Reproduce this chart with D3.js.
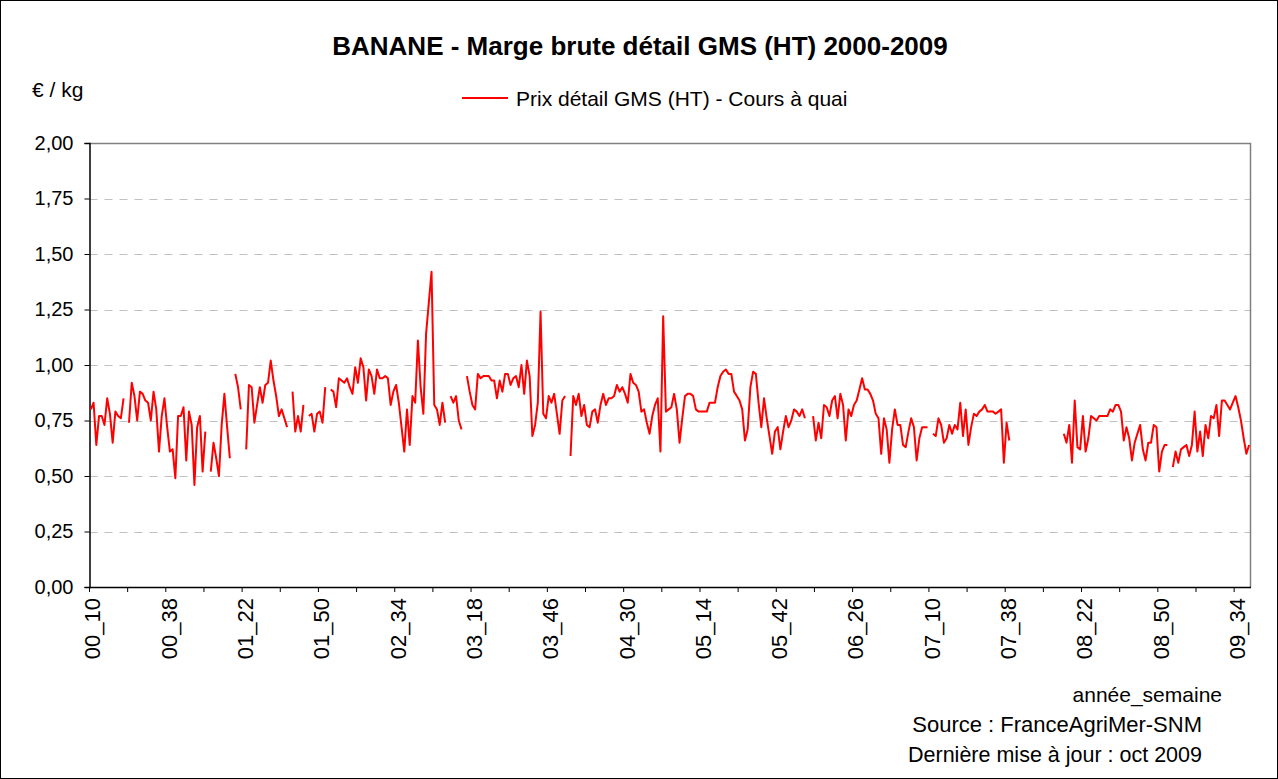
<!DOCTYPE html>
<html><head><meta charset="utf-8">
<script src="https://cdn.jsdelivr.net/npm/d3@7"></script>
<style>
body{margin:0;background:#fff}
svg{display:block}
text{font-family:"Liberation Sans",Arial,sans-serif;fill:#000}
</style>
</head><body>
<svg id="chart" width="1278" height="779"></svg>
<script>
// ---------- data ----------
const chartTitle = "BANANE - Marge brute détail GMS (HT) 2000-2009";
const seriesName = "Prix détail GMS (HT) - Cours à quai";
const yUnitLabel = "€ / kg";
const xAxisTitle = "année_semaine";
const footNotes = ["Source : FranceAgriMer-SNM", "Dernière mise à jour : oct 2009"];

const years = [2000, 2001, 2002, 2003, 2004, 2005, 2006, 2007, 2008, 2009];
const firstWeek = 10, lastWeek = 39, weekFrom = 9, weekTo = 52;

const tickLabels = ["00_10","00_38","01_22","01_50","02_34","03_18","03_46","04_30",
                    "05_14","05_42","06_26","07_10","07_38","08_22","08_50","09_34"];
const yTicks = [0, 0.25, 0.5, 0.75, 1, 1.25, 1.5, 1.75, 2];

const values = [
0.80,0.83,0.64,0.77,0.77,0.73,0.85,0.78,0.65,0.79,
0.77,0.76,0.85,null,0.74,0.92,0.86,0.75,0.88,0.87,
0.84,0.83,0.75,0.88,0.80,0.61,0.77,0.85,0.72,0.61,
0.62,0.49,0.77,0.77,0.81,0.57,0.79,0.73,0.46,0.72,
0.77,0.52,0.70,null,0.52,0.65,0.58,0.50,0.73,0.87,
0.72,0.58,null,0.96,0.90,0.80,null,0.62,0.91,0.90,
0.74,0.82,0.90,0.83,0.91,0.92,1.02,0.93,0.86,0.77,
0.80,0.76,0.72,null,0.88,0.70,0.77,0.70,0.82,null,
0.77,0.78,0.70,0.78,0.79,0.74,0.90,null,0.89,0.88,
0.81,0.94,0.93,0.92,0.94,0.90,0.87,0.99,0.92,1.03,
0.99,0.84,0.98,0.95,0.87,0.98,0.94,0.94,0.95,0.94,
0.82,0.88,0.91,0.83,0.72,0.61,0.80,0.64,0.86,0.83,
1.11,0.90,0.78,1.14,1.28,1.42,0.82,0.80,0.73,0.83,
0.74,null,0.86,0.83,0.86,0.75,0.71,null,0.95,0.88,
0.82,0.80,0.96,0.94,0.95,0.95,0.95,0.93,0.93,0.85,
0.93,0.88,0.96,0.96,0.91,0.94,0.95,0.90,1.00,0.87,
1.02,0.95,0.68,0.73,0.83,1.24,0.78,0.76,0.86,0.83,
0.87,0.78,0.69,0.84,0.86,null,0.59,0.86,0.82,0.87,
0.77,0.82,0.73,0.72,0.79,0.80,0.74,0.82,0.87,0.82,
0.85,0.85,0.86,0.91,0.88,0.90,0.87,0.83,0.96,0.92,
0.91,0.88,0.79,0.80,0.74,0.69,0.77,0.82,0.85,0.61,
1.22,0.79,0.80,0.81,0.87,0.80,0.65,0.76,0.86,0.87,
0.87,0.86,0.80,0.79,0.79,0.79,0.79,0.83,0.83,0.83,
0.90,0.95,0.97,0.98,0.96,0.96,0.88,0.86,0.84,0.80,
0.66,0.71,0.90,0.97,0.96,0.83,0.72,0.85,0.76,0.68,
0.60,0.70,0.72,0.62,0.70,0.77,0.72,0.75,0.80,0.79,
0.77,0.80,0.76,null,null,0.77,0.66,0.74,0.67,0.82,
0.81,0.77,0.84,0.86,0.76,0.87,0.82,0.66,0.80,0.77,
0.82,0.84,0.89,0.94,0.89,0.89,0.87,0.84,0.78,0.76,
0.60,0.76,0.71,0.56,0.71,0.80,0.73,0.73,0.64,0.63,
0.70,0.76,0.72,0.57,0.67,0.72,0.72,0.72,null,0.69,
0.68,0.76,0.73,0.65,0.67,0.73,0.69,0.73,0.71,0.83,
0.68,0.80,0.64,0.72,0.78,0.77,0.79,0.80,0.82,0.79,
0.79,0.79,0.78,0.79,0.80,0.56,0.74,0.66,null,null,
null,null,null,null,null,null,null,null,null,null,
null,null,null,null,null,null,null,0.69,0.65,0.73,
0.56,0.84,0.63,0.62,0.77,0.61,0.67,0.77,0.76,0.75,
0.77,0.77,0.77,0.77,0.80,0.79,0.82,0.82,0.79,0.66,
0.72,0.67,0.57,0.65,0.69,0.73,0.62,0.57,0.65,0.65,
0.73,0.72,0.52,0.61,0.64,0.64,null,0.54,0.61,0.56,
0.62,0.63,0.64,0.59,0.64,0.79,0.61,0.70,0.59,0.73,
0.67,0.77,0.76,0.82,0.68,0.84,0.84,0.82,0.80,0.83,
0.86,0.81,0.75,0.67,0.60,0.64
];

// categories (year_week), weeks 9..52 of each year
const categories = [];
years.forEach(yr => {
  const w0 = yr === years[0] ? firstWeek : weekFrom;
  const w1 = yr === years[years.length - 1] ? lastWeek : weekTo;
  for (let w = w0; w <= w1; w++) categories.push(String(yr % 100).padStart(2, "0") + "_" + String(w).padStart(2, "0"));
});
const data = categories.map((c, i) => ({cat: c, v: values[i] === undefined ? null : values[i]}));

// ---------- layout ----------
const W = 1278, H = 779;
const plot = {left: 89.5, right: 1250.5, top: 143, bottom: 587};
const svg = d3.select("#chart");
const fr = d3.formatLocale({decimal: ",", thousands: " ", grouping: [3], currency: ["", " €"]});
const fmt = fr.format(".2f");

const x = d3.scaleBand().domain(categories).range([plot.left, plot.right]).padding(0);
const y = d3.scaleLinear().domain([0, 2]).range([plot.bottom, plot.top]);
const cx = c => x(c) + x.bandwidth() / 2;

// outer frame
svg.append("rect").attr("x", 0.5).attr("y", 0.5).attr("width", W - 1).attr("height", H - 1)
  .attr("fill", "#fff").attr("stroke", "#000").attr("stroke-width", 1);

// gridlines
svg.append("g").selectAll("line").data(yTicks.filter(t => t > 0 && t < 2)).join("line")
  .attr("x1", plot.left).attr("x2", plot.right)
  .attr("y1", d => Math.round(y(d)) + 0.5).attr("y2", d => Math.round(y(d)) + 0.5)
  .attr("stroke", "#c0c0c0").attr("stroke-width", 1).attr("stroke-dasharray", "8,7");

// plot frame (top & right, gray)
svg.append("path")
  .attr("d", `M${plot.left},${y(2) + 0.5}H${plot.right}V${plot.bottom}`)
  .attr("fill", "none").attr("stroke", "#808080").attr("stroke-width", 1.5);

// y axis
const yAxis = d3.axisLeft(y).tickValues(yTicks).tickFormat(fmt).tickSize(5).tickPadding(11);
const gy = svg.append("g").attr("transform", `translate(${plot.left},0)`).call(yAxis);
gy.select(".domain").attr("stroke", "#000").attr("stroke-width", 1.5);
gy.selectAll(".tick line").attr("stroke", "#000");
gy.selectAll(".tick text").attr("font-size", 20).attr("font-family", '"Liberation Sans",Arial,sans-serif');

// x axis: tick marks at category boundaries every 14 categories
const boundaryCats = categories.filter((c, i) => i % 14 === 0);
svg.append("g").selectAll("line").data(boundaryCats).join("line")
  .attr("x1", d => x(d)).attr("x2", d => x(d))
  .attr("y1", plot.bottom).attr("y2", plot.bottom + 5)
  .attr("stroke", "#000").attr("stroke-width", 1);
const xAxis = d3.axisBottom(x).tickValues(tickLabels).tickSize(0).tickPadding(0);
const gx = svg.append("g").attr("transform", `translate(0,${plot.bottom})`).call(xAxis);
gx.select(".domain").attr("stroke", "#000").attr("stroke-width", 1.5);
gx.selectAll(".tick text")
  .attr("font-size", 22).attr("font-family", '"Liberation Sans",Arial,sans-serif')
  .attr("text-anchor", "end").attr("dy", null)
  .attr("transform", "translate(2,11) rotate(-90)")
  .attr("y", 0).attr("x", 0).attr("dominant-baseline", "central");

// series line
const line = d3.line().defined(d => d.v !== null).x(d => cx(d.cat)).y(d => y(d.v));
svg.append("path").datum(data).attr("d", line)
  .attr("fill", "none").attr("stroke", "#ff0000").attr("stroke-width", 2).attr("stroke-linejoin", "round");

// title
svg.append("text").attr("x", 640).attr("y", 55).attr("text-anchor", "middle")
  .attr("font-size", 26).attr("font-weight", "bold").text(chartTitle);
// unit
svg.append("text").attr("x", 32).attr("y", 97).attr("font-size", 21).text(yUnitLabel);
// legend
svg.append("line").attr("x1", 462).attr("x2", 508).attr("y1", 98).attr("y2", 98)
  .attr("stroke", "#ff0000").attr("stroke-width", 2);
svg.append("text").attr("x", 516).attr("y", 106).attr("font-size", 21).text(seriesName);
// x title & notes
svg.append("text").attr("x", 1222).attr("y", 702).attr("text-anchor", "end").attr("font-size", 21).text(xAxisTitle);
svg.append("text").attr("x", 1202).attr("y", 732).attr("text-anchor", "end").attr("font-size", 22).text(footNotes[0]);
svg.append("text").attr("x", 1202).attr("y", 762).attr("text-anchor", "end").attr("font-size", 21.5).text(footNotes[1]);
</script>
</body></html>
